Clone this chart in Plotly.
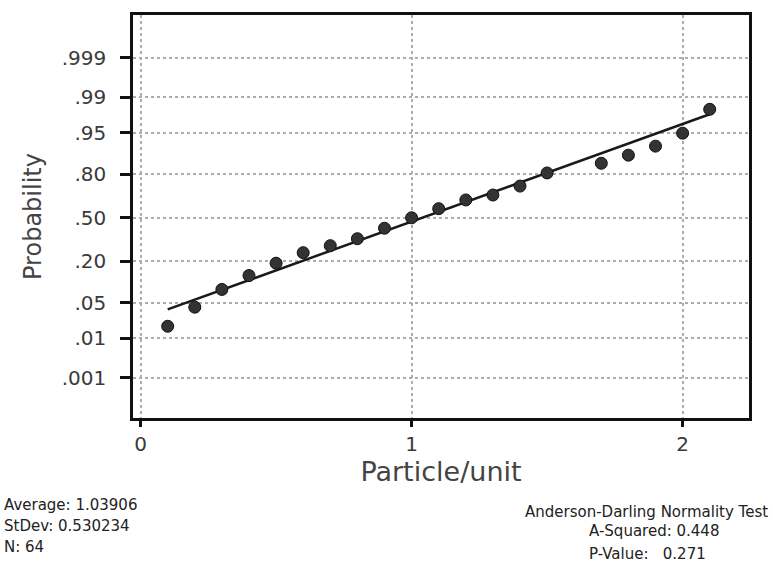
from statistics import NormalDist
import plotly.graph_objects as go

# Observed particle counts per unit and their cumulative probabilities
particles = [0.1, 0.2, 0.3, 0.4, 0.5, 0.6, 0.7, 0.8, 0.9, 1.0,
             1.1, 1.2, 1.3, 1.4, 1.5, 1.7, 1.8, 1.9, 2.0, 2.1]
cum_prob = [0.018, 0.042, 0.083, 0.132, 0.190, 0.250, 0.295, 0.343, 0.420, 0.500,
            0.570, 0.635, 0.670, 0.730, 0.807, 0.854, 0.887, 0.917, 0.949, 0.982]

# Probability-scale ticks
prob_ticks = [0.001, 0.01, 0.05, 0.20, 0.50, 0.80, 0.95, 0.99, 0.999]
prob_labels = [".001", ".01", ".05", ".20", ".50", ".80", ".95", ".99", ".999"]
x_ticks = [0, 1, 2]

# Summary statistics
mean = 1.03906
stdev = 0.530234
n_obs = 64
a_squared = 0.448
p_value = 0.271

nd = NormalDist()
z_points = [nd.inv_cdf(p) for p in cum_prob]
z_ticks = [nd.inv_cdf(p) for p in prob_ticks]

# Fitted normal line over the data range
line_x = [min(particles), max(particles)]
line_z = [(x - mean) / stdev for x in line_x]

FONT = "DejaVu Sans, Arial, sans-serif"

fig = go.Figure()
fig.add_trace(go.Scatter(
    x=line_x, y=line_z, mode="lines",
    line=dict(color="#1a1a1a", width=2.5),
    hoverinfo="skip", showlegend=False,
))
fig.add_trace(go.Scatter(
    x=particles, y=z_points, mode="markers",
    marker=dict(size=12, color="#333333", line=dict(color="#111111", width=1)),
    showlegend=False,
))

fig.update_xaxes(
    range=[-0.028, 2.245],
    tickvals=x_ticks, ticktext=[str(v) for v in x_ticks],
    ticks="outside", ticklen=6, tickwidth=2.5, tickcolor="#111",
    showline=True, linecolor="#111", linewidth=2.5, mirror=True,
    showgrid=True, gridcolor="#adadad", gridwidth=1.5, griddash="dot",
    zeroline=False,
    tickfont=dict(family=FONT, size=20, color="#3a3a3a"),
    title=dict(text="Particle/unit", font=dict(family=FONT, size=27, color="#444"), standoff=4),
)
fig.update_yaxes(
    range=[-3.87, 3.92],
    tickvals=z_ticks, ticktext=prob_labels,
    ticks="outside", ticklen=10, tickwidth=2.5, tickcolor="#111",
    ticklabelstandoff=10,
    showline=True, linecolor="#111", linewidth=2.5, mirror=True,
    showgrid=True, gridcolor="#adadad", gridwidth=1.5, griddash="dot",
    zeroline=False,
    tickfont=dict(family=FONT, size=20, color="#3a3a3a"),
    title=dict(text="Probability", font=dict(family=FONT, size=24, color="#444"), standoff=14),
)

L, R, T, B = 133, 24, 13, 146
W, H = 773, 564
pw, ph = W - L - R, H - T - B


def px(xp):
    return (xp - L) / pw


def py(yp):
    return (H - B - yp) / ph


notes = [
    (f"Average: {mean}", 2, 505, "left"),
    (f"StDev: {stdev}", 2, 527, "left"),
    (f"N: {n_obs}", 2, 548, "left"),
    ("Anderson-Darling Normality Test", 770, 512, "right"),
    (f"A-Squared: {a_squared}", 587, 532, "left"),
    (f"P-Value:   {p_value}", 587, 555, "left"),
]
for text, xp, yp, anchor in notes:
    fig.add_annotation(
        text=text, xref="paper", yref="paper", x=px(xp), y=py(yp),
        xanchor=anchor, yanchor="middle", showarrow=False,
        font=dict(family=FONT, size=15, color="#222"),
    )

fig.update_layout(
    width=W, height=H,
    margin=dict(l=L, r=R, t=T, b=B, pad=0),
    paper_bgcolor="white", plot_bgcolor="white",
)

fig.write_html("out.html")
